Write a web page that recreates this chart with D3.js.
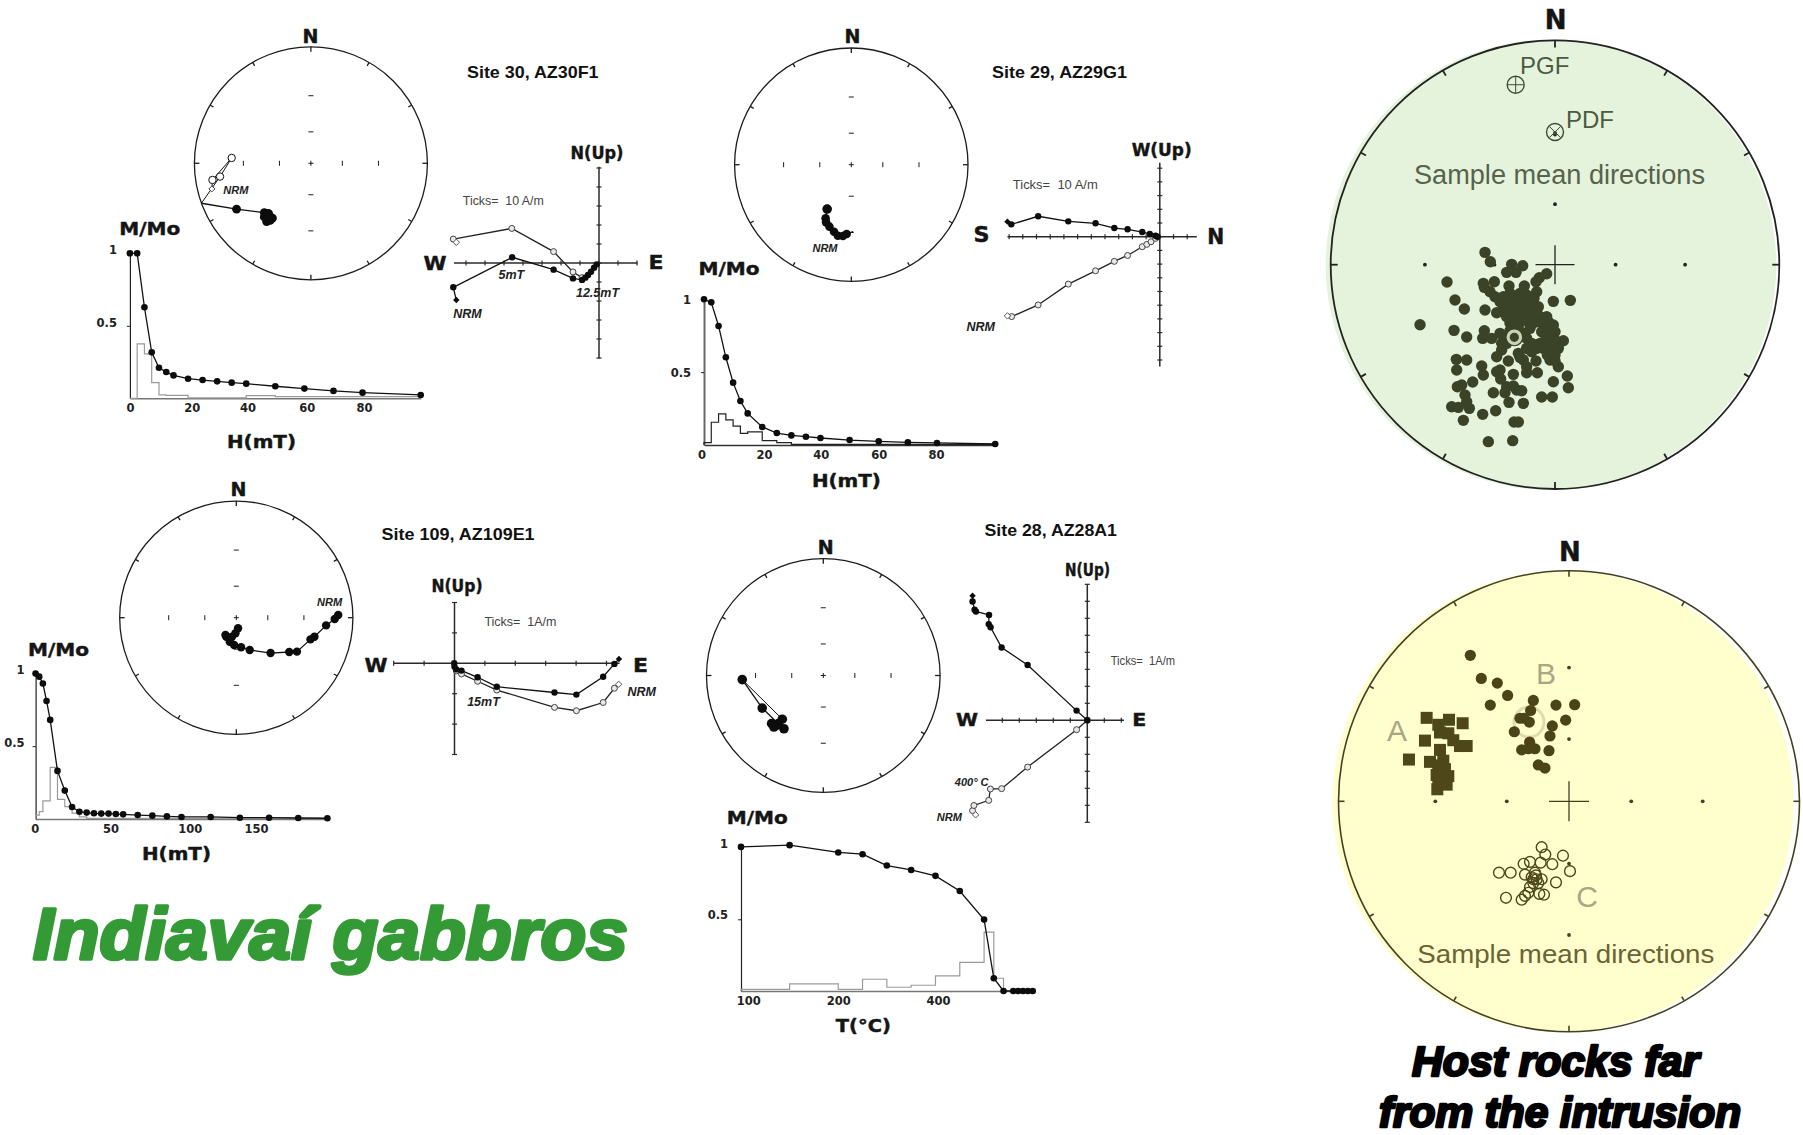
<!DOCTYPE html>
<html><head><meta charset="utf-8">
<script src="https://cdn.jsdelivr.net/npm/d3@7"></script>
<style>html,body{margin:0;padding:0;background:#fff}svg{display:block}text{white-space:pre}</style>
</head><body><svg id="c" width="1803" height="1135"></svg>
<script>
// ---------- stereonet directions, east / north in fractions of the net radius
const net30Filled=[[-.94,-.343],[-.638,-.394],[-.40,-.423],[-.365,-.43],[-.38,-.5],[-.33,-.47],[-.36,-.44],[-.40,-.46],[-.35,-.49],[-.37,-.46]];
const net30Open=[[-.85,-.22],[-.845,-.143],[-.68,.046],[-.78,-.114],[-.94,-.343]];
const net29Filled=[[-.207,-.38],[-.22,-.46],[-.216,-.494],[-.187,-.531],[-.148,-.574],[-.115,-.609],[-.072,-.611],[-.04,-.594]];
const net29Tail=[[-.04,-.594],[.016,-.574]];
const net109Filled=[[.874,.023],[.844,-.011],[.77,-.066],[.67,-.163],[.636,-.186],[.52,-.291],[.454,-.294],[.294,-.303],[.115,-.277],[.041,-.254],[-.019,-.234],[-.056,-.206],[-.086,-.163],[-.093,-.149],[-.037,-.163],[-.007,-.134],[.015,-.091]];
const net28Filled=[[-.694,-.035],[-.523,-.279],[-.386,-.412],[-.351,-.374],[-.443,-.412],[-.423,-.441],[-.337,-.456],[-.4,-.426]];
const net28Open=[[-.694,-.035],[-.351,-.374]];
const netInnerTicks=[-.58,-.27,.27,.58];
// ---------- host rock directions, read on a grid across each net
const hostGreen=[[525,757],[541,785],[605,793],[638,797],[590,817],[618,817],[710,821],[688,833],[678,845],[411,846],[520,850],[553,845],[523,862],[597,858],[643,858],[680,875],[540,875],[555,890],[600,880],[435,900],[730,904],[781,901],[463,927],[525,930],[570,905],[590,910],[575,935],[560,938],[620,900],[640,905],[660,905],[685,920],[630,925],[650,930],[670,935],[600,935],[610,950],[635,945],[660,950],[690,950],[710,950],[600,970],[630,965],[680,965],[700,970],[730,975],[330,974],[432,991],[523,992],[470,1011],[518,1015],[545,1015],[570,1000],[590,1010],[735,995],[695,995],[660,985],[615,985],[640,1000],[720,1015],[760,1022],[735,1020],[665,1030],[690,1030],[650,1045],[665,1055],[700,1045],[720,1050],[745,1045],[575,1050],[560,1070],[595,1083],[625,1060],[640,1080],[678,1083],[720,1080],[745,1100],[650,1100],[650,1118],[682,1118],[515,1098],[570,1110],[560,1115],[520,1125],[572,1137],[610,1123],[439,1078],[470,1080],[440,1110],[772,1128],[730,1145],[775,1163],[488,1146],[455,1155],[442,1160],[465,1185],[590,1160],[610,1158],[620,1170],[635,1172],[585,1178],[550,1178],[695,1191],[727,1191],[470,1205],[597,1207],[640,1210],[425,1220],[445,1222],[478,1225],[557,1232],[518,1243],[460,1261],[612,1266],[625,1266],[535,1325],[608,1322],
[580,890],[610,892],[650,885],[672,895],[630,880],[600,920],[615,915],[640,920],[660,920],[590,950],[620,935],[680,935],[650,962],[670,968],[715,965],[625,978],[600,992],[650,1015],[705,1022],[725,1035],[680,1045],[712,1065],[735,1065],[735,1082],[630,1072],[590,1030],[575,1030],[722,992]];
const hostGreenMean=[[613,1012]];
const hostGreenPGF=[[617,254]];
const hostGreenPDF=[[735,396]];
const hostA=[[320,487],[387,492],[428,501],[355,505],[360,525],[385,527],[315,546],[400,545],[440,560],[420,560],[360,570],[267,595],[330,601],[370,598],[355,610],[375,620],[350,635],[385,638],[370,650],[355,645],[352,672],[380,660]];
const hostB=[[451,325],[484,385],[532,397],[563,429],[511,454],[640,442],[708,454],[764,453],[632,468],[600,488],[612,488],[628,498],[737,493],[583,523],[697,508],[690,534],[629,550],[605,570],[625,567],[645,567],[687,572],[655,609],[675,617]];
const hostC=[[665,822],[676,841],[729,844],[750,884],[697,866],[662,862],[630,860],[611,865],[537,888],[572,888],[615,893],[645,888],[665,905],[708,913],[640,905],[650,905],[640,915],[655,915],[630,925],[625,940],[615,948],[605,958],[558,953],[658,943],[672,945],[648,895],[635,900]];
const hostBMean=[[627,498]];
// ---------- demagnetisation curves
const afField=[0,2.5,5,7.5,10,12.5,15,20,25,30,35,40,50,60,70,80,100];
const m30=[1,1,.628,.317,.211,.181,.158,.135,.126,.117,.108,.101,.083,.067,.051,.039,.023];
const m29=[1,.979,.817,.602,.428,.302,.217,.124,.082,.066,.057,.048,.034,.025,.018,.014,.007];
const hist30Edges=[0,2.5,5,7.5,10,12.5,15,20,40,50,100];
const hist30=[.0,.375,.306,.108,.023,.02,.02,.003,.018,.012];
const hist29Edges=[0,2.5,5,7.5,10,12.5,15,20,25,30,100];
const hist29=[.016,.156,.213,.172,.13,.08,.09,.03,.016,.004];
const field109=[0,2.5,5,7.5,10,15,20,25,30,35,40,45,50,55,60,70,80,90,100,120,140,160,180,200];
const m109=[.998,.977,.93,.81,.68,.33,.195,.082,.05,.044,.039,.037,.037,.034,.032,.027,.023,.018,.014,.014,.009,.009,.007,.005];
const hist109Edges=[0,2.5,5,10,15,20,25,30,35,200];
const hist109=[.027,.05,.124,.355,.135,.085,.04,.015,.004];
const temp28=[0,100,200,250,300,350,400,450,500,520,540,560,570,580,590,600];
const m28=[1.005,1.017,.966,.954,.875,.844,.803,.697,.498,.089,0,0,0,0,0,0];
const hist28Edges=[0,100,200,250,300,350,400,450,500,520,540];
const hist28=[.012,.05,.012,.082,.026,.04,.106,.2,.41,.089];
// tick labels and where they sit along each axis
const xLabels30=["0","20","40","60","80"], xLabelsAt30=[0,21.3,40.4,60.8,80.5];
const xLabels29=["0","20","40","60","80"], xLabelsAt29=[-.9,20.6,40.1,60,79.7];
const xLabels109=["0","50","100","150"], xLabelsAt109=[-.5,51.4,105.6,151];
const xLabels28=["100","200","400"], xLabelsAt28=[15,200,405];
const yLabels=["1","0.5"], yLabelsAt=[1,.5];
// ---------- vector end-point diagrams (A/m: east or north, up)
const z30Filled=[[-75.1,-19.5],[-76.7,-12.8],[-45.7,3],[-23.9,-3.5],[-13.7,-8.1],[-8.9,-8.9],[-7.2,-7.7],[-5.8,-6.3],[-4.2,-4.6],[-2.6,-2.5],[-1.2,-.7]];
const z30Open=[[-75.1,10.9],[-76.7,12.6],[-45.9,18.2],[-23.9,6],[-13.7,-4.7],[-8.9,-7.7]];
const z29Filled=[[-111.2,11],[-108.4,9],[-88.8,14.9],[-66.8,11.2],[-46.9,9.8],[-33.2,6.3],[-23.5,5.4],[-12.8,3.4],[-7.3,2],[-3.1,.7],[-1.7,0]];
const z29Open=[[-111.2,-57.8],[-108.1,-58.3],[-88.8,-49.8],[-66.8,-34.6],[-46.9,-24.9],[-33.2,-18],[-23.5,-13.7],[-12.8,-7.3],[-9.5,-5.6],[-6.4,-3.7],[-3.1,-1.2]];
const z109Filled=[[5.41,.14],[5.26,-.02],[4.89,-.44],[4.01,-1.03],[3.29,-.96],[1.39,-.77],[.76,-.46],[.23,-.24],[.06,-.2],[0,-.11],[-.01,0]];
const z109Open=[[5.4,-.69],[5.26,-.82],[4.89,-1.29],[4.01,-1.56],[3.29,-1.45],[1.39,-.88],[.76,-.59],[.23,-.35],[.06,-.25]];
const z28Filled=[[-6.75,7.33],[-6.75,6.99],[-6.63,6.5],[-6.55,6.4],[-5.78,6.2],[-5.8,5.66],[-5.69,5.47],[-5.04,4.28],[-3.51,3.25],[-.63,.57],[0,0]];
const z28Open=[[-6.57,-5.56],[-6.75,-5.31],[-6.67,-5.01],[-5.8,-4.71],[-5.7,-4.04],[-5.04,-4.02],[-3.51,-2.75],[-.63,-.55],[0,0]];

const svg=d3.select("#c");
const HEAVY='"DejaVu Sans",sans-serif', ARIAL='"Liberation Sans",Arial,sans-serif';
function T(s,x,y,o={}){
  const t=svg.append("text").text(s).attr("x",x).attr("y",y)
    .attr("font-family",o.family||ARIAL).attr("font-size",o.size||14)
    .attr("font-weight",o.weight||"normal").attr("font-style",o.style||"normal")
    .attr("fill",o.fill||"#111").attr("text-anchor",o.anchor||"start");
  if(o.mid) t.attr("dominant-baseline","central");
  if(o.width) t.attr("textLength",o.width).attr("lengthAdjust","spacingAndGlyphs");
  if(o.stroke) t.attr("stroke",o.stroke).attr("stroke-width",o.sw||1).attr("stroke-linejoin","round");
  return t;
}
const H=(s,x,y,size,w)=>T(s,x,y,{family:HEAVY,weight:"bold",size,anchor:"middle",mid:true,width:w,fill:"#151515",stroke:"#151515",sw:.45});
const IT=(s,x,y,size)=>T(s,x,y,{weight:"bold",style:"italic",size,anchor:"middle",mid:true,fill:"#222"});

function net(cx,cy,r,dom,o={}){
  const xs=d3.scaleLinear().domain(dom.x).range([cx-r,cx+r]);
  const ys=d3.scaleLinear().domain(dom.y).range([cy+r,cy-r]);
  const g=svg.append("g"), col=o.col||"#1c1c1c";
  const ang=d3.range(0,360,30);
  if(o.fill) g.append("circle").attr("cx",cx+(o.fdx||0)).attr("cy",cy+(o.fdy||0)).attr("r",r+(o.fdr||0)).attr("fill",o.fill);
  g.append("circle").attr("cx",cx).attr("cy",cy).attr("r",r).attr("fill","none").attr("stroke",col).attr("stroke-width",o.sw||1.3);
  const tl=o.tick||4;
  g.selectAll("line.t").data(ang).join("line").attr("class","t")
    .attr("x1",d=>cx+r*Math.sin(d*Math.PI/180)).attr("y1",d=>cy-r*Math.cos(d*Math.PI/180))
    .attr("x2",d=>cx+(r-(d%90?tl:tl+1))*Math.sin(d*Math.PI/180)).attr("y2",d=>cy-(r-(d%90?tl:tl+1))*Math.cos(d*Math.PI/180))
    .attr("stroke",col).attr("stroke-width",o.sw||1.3);
  return {xs,ys,g,cx,cy,r,col};
}
function innerTicks(n,zero){
  const q=d3.scaleLinear().domain([-1,1]).range([-n.r,n.r]);
  netInnerTicks.forEach(v=>{
    n.g.append("line").attr("x1",n.cx+q(v)).attr("x2",n.cx+q(v)).attr("y1",n.cy-2.5).attr("y2",n.cy+2.5).attr("stroke",n.col);
    n.g.append("line").attr("y1",n.cy+q(v)).attr("y2",n.cy+q(v)).attr("x1",n.cx-2.5).attr("x2",n.cx+2.5).attr("stroke",n.col);
  });
  n.g.append("path").attr("d",`M${n.cx-2.5},${n.cy}h5M${n.cx},${n.cy-2.5}v5`).attr("stroke",n.col);
}
function innerDots(n,size){
  const q=d3.scaleLinear().domain([-1,1]).range([-n.r,n.r]);
  netInnerTicks.forEach(v=>{
    n.g.append("circle").attr("cx",n.cx+q(v)).attr("cy",n.cy).attr("r",1.9).attr("fill",n.col);
    n.g.append("circle").attr("cx",n.cx).attr("cy",n.cy+q(v)).attr("r",1.9).attr("fill",n.col);
  });
  n.g.append("path").attr("d",`M${n.cx-size},${n.cy}h${2*size}M${n.cx},${n.cy-size}v${2*size}`).attr("stroke",n.col).attr("stroke-width",1.3);
}
function path(sx,sy,pts,o={}){
  svg.append("path").attr("d",d3.line().x(d=>sx(d[0])).y(d=>sy(d[1]))(pts)).attr("fill","none")
    .attr("stroke",o.stroke||"#111").attr("stroke-width",o.sw||1.2);
}
function dots(sx,sy,pts,r,o={}){
  svg.append("g").selectAll("circle").data(pts).join("circle").attr("cx",d=>sx(d[0])).attr("cy",d=>sy(d[1])).attr("r",r)
    .attr("fill",o.fill||"#0c0c0c").attr("stroke",o.stroke||"none").attr("stroke-width",o.sw||1);
}
function diamonds(sx,sy,pts,r,o={}){
  svg.append("g").selectAll("path").data(pts).join("path")
    .attr("d",d=>{const x=sx(d[0]),y=sy(d[1]);return `M${x-r},${y}L${x},${y-r}L${x+r},${y}L${x},${y+r}Z`;})
    .attr("fill",o.fill||"#0c0c0c").attr("stroke",o.stroke||"none");
}
function decay(b,xv,mv,edges,hv,labels,at,o={}){
  const x=d3.scaleLinear().domain(b.xd).range([b.x0,b.x1]);
  const y=d3.scaleLinear().domain([0,1]).range([b.y0,b.y1]);
  const ax=svg.append("g").attr("transform",`translate(0,${b.y0})`).call(d3.axisBottom(x).tickValues(at).tickFormat((d,i)=>labels[i]).tickSize(0).tickPadding(o.pad||6));
  ax.selectAll("text").attr("font-family",HEAVY).attr("font-weight","bold").attr("font-size",11.5).attr("fill","#222");
  ax.select(".domain").attr("stroke",o.baseCol||"#777").attr("stroke-width",1.6);
  const ay=svg.append("g").attr("transform",`translate(${b.x0},0)`).call(d3.axisLeft(y).tickValues(yLabelsAt).tickFormat((d,i)=>yLabels[i]).tickSize(3).tickPadding(o.ypad||10).tickSizeOuter(0));
  ay.selectAll("text").attr("font-family",HEAVY).attr("font-weight","bold").attr("font-size",11.5).attr("fill","#222").attr("dy",`${.32+(o.ydy||0)/11.5}em`);
  ay.select(".domain").attr("stroke",o.axisCol||"#222").attr("stroke-width",o.axisW||1.2);
  ay.selectAll("line").attr("stroke","#222");
  let d=`M${x(edges[0])},${y(0)}`;
  hv.forEach((v,i)=>{d+=`V${y(v)}H${x(edges[i+1])}`;});
  d+=`V${y(0)}`;
  svg.append("path").attr("d",d).attr("fill","none").attr("stroke",o.histCol||"#9a9a9a").attr("stroke-width",1.2);
  const pts=xv.map((v,i)=>[v,mv[i]]);
  path(x,y,pts,{sw:1.3});
  dots(x,y,pts,3.3);
}
function zij(b,filled,open,o={}){
  const x=d3.scaleLinear().domain([0,1]).range([b.ox,b.ox+b.u]);
  const y=d3.scaleLinear().domain([0,1]).range([b.oy,b.oy-b.uy]);
  const col="#2a2a2a";
  svg.append("line").attr("x1",x(b.xr[0])).attr("x2",x(b.xr[1])).attr("y1",b.oy).attr("y2",b.oy).attr("stroke",col).attr("stroke-width",1.5);
  svg.append("line").attr("y1",y(b.yr[0])).attr("y2",y(b.yr[1])).attr("x1",b.ox).attr("x2",b.ox).attr("stroke",col).attr("stroke-width",1.5);
  d3.range(Math.ceil(b.xr[0]/b.step)*b.step,b.xr[1]+.001,b.step).forEach(v=>{
    svg.append("line").attr("x1",x(v)).attr("x2",x(v)).attr("y1",b.oy-2.5).attr("y2",b.oy+2.5).attr("stroke",col).attr("stroke-width",1.2);});
  d3.range(Math.ceil(b.yr[0]/b.step)*b.step,b.yr[1]+.001,b.step).forEach(v=>{
    svg.append("line").attr("y1",y(v)).attr("y2",y(v)).attr("x1",b.ox-2.5).attr("x2",b.ox+2.5).attr("stroke",col).attr("stroke-width",1.2);});
  path(x,y,open,{sw:1.3,stroke:"#222"});
  path(x,y,filled,{sw:1.3});
  dots(x,y,open.slice(1),b.r||3,{fill:"#e8e8e8",stroke:"#444",sw:1});
  diamonds(x,y,open.slice(0,1),3.2,{fill:"#fff",stroke:"#555"});
  dots(x,y,filled.slice(1),b.r||3.2);
  diamonds(x,y,filled.slice(0,1),3.2);
}
const unit={x:[-1,1],y:[-1,1]};

// ================ Site 30
let n=net(310.9,163.3,116.5,unit); innerTicks(n);
path(n.xs,n.ys,net30Open,{sw:1}); path(n.xs,n.ys,net30Filled,{sw:1.3});
dots(n.xs,n.ys,net30Open.slice(1,4),3.7,{fill:"#fff",stroke:"#111"});
diamonds(n.xs,n.ys,net30Open.slice(0,1),3,{fill:"#fff",stroke:"#444"});
dots(n.xs,n.ys,net30Filled.slice(1),4.4);
H("N",310.5,35.6,19);
IT("NRM",235.9,190,11);
T("Site 30, AZ30F1",467,77.7,{weight:"bold",size:16.5,width:131.5});
H("N(Up)",597,152,18,53);
T("Ticks=  10 A/m",462.8,205,{size:13.5,fill:"#444",width:81});
H("W",434.9,262.7,20,23); H("E",656,261.7,20,15);
decay({xd:[0,100],x0:129.9,x1:420.7,y0:398.3,y1:253.3},afField,m30,hist30Edges,hist30,xLabels30,xLabelsAt30,{axisW:1.2,ydy:-3});
H("M/Mo",149.8,228,18,61); H("H(mT)",261.5,441,18,69);
zij({ox:599,oy:263,u:1.9,uy:1.9,xr:[-76.3,20.3],yr:[-50.2,50.7],step:10},z30Filled,z30Open);
IT("5mT",511.4,275,12.5); IT("12.5mT",597.5,293,12.5); IT("NRM",467.4,314,12.5);

// ================ Site 29
n=net(851.3,164.7,116.7,unit); innerTicks(n);
path(n.xs,n.ys,net29Filled,{sw:1.3}); path(n.xs,n.ys,net29Tail,{sw:1.3});
dots(n.xs,n.ys,net29Filled,4.3); dots(n.xs,n.ys,net29Filled.slice(0,1),4.8);
H("N",852.5,36,19);
IT("NRM",825,247.7,11);
T("Site 29, AZ29G1",992,77.7,{weight:"bold",size:16.5,width:135});
H("W(Up)",1161.7,149.5,18,60);
T("Ticks=  10 A/m",1012.8,189.3,{size:13.5,fill:"#444",width:85});
H("S",981.5,235,21,16); H("N",1215.7,237.3,21,17);
decay({xd:[0,100],x0:704,x1:995.2,y0:445,y1:299.3},afField,m29,hist29Edges,hist29,xLabels29,xLabelsAt29,{axisCol:"#666",axisW:2,histCol:"#222",baseCol:"#333",ydy:1});
H("M/Mo",729,268,18,61); H("H(mT)",846.4,480.5,18,69);
zij({ox:1159.8,oy:236.7,u:1.37,uy:1.37,xr:[-111.2,27],yr:[-94.8,54],step:10},z29Filled,z29Open,{});
IT("NRM",980.7,326.7,12.5);

// ================ Site 109
n=net(236.3,617.7,116.6,unit); innerTicks(n);
path(n.xs,n.ys,net109Filled,{sw:1.3}); dots(n.xs,n.ys,net109Filled,4.2);
H("N",238.5,489.3,19);
IT("NRM",329.6,602.3,11);
T("Site 109, AZ109E1",381.6,540,{weight:"bold",size:16.5,width:153});
H("N(Up)",457,585,18,51);
T("Ticks=  1A/m",484.4,625.7,{size:13.5,fill:"#444",width:72});
H("W",376,665,20,23); H("E",640.5,665,20,15);
decay({xd:[0,200],x0:35.6,x1:327.4,y0:819,y1:673.3},field109,m109,hist109Edges,hist109,xLabels109,xLabelsAt109,{ypad:8,ydy:-3});
H("M/Mo",58.5,649.3,18,61); H("H(mT)",176.5,853.3,18,69);
zij({ox:454.5,oy:663.3,u:30.4,uy:30.4,xr:[-2,5.43],yr:[-3.01,2],step:1},z109Filled,z109Open);
IT("15mT",483.5,701.7,12.5); IT("NRM",641.8,691.7,12.5);

// ================ Site 28
n=net(823.3,675.5,116.8,unit); innerTicks(n);
path(n.xs,n.ys,net28Open,{sw:1}); path(n.xs,n.ys,net28Filled.slice(0,3),{sw:1.3});
dots(n.xs,n.ys,net28Filled,4.8);
H("N",825.7,547,19);
T("Site 28, AZ28A1",984.5,535.9,{weight:"bold",size:16.5,width:132.5});
H("N(Up)",1087.5,570,17,45);
T("Ticks=  1A/m",1110.7,665,{size:13,fill:"#444",width:64.5});
H("W",967,719.7,17,22); H("E",1139.3,719.7,17,14);
decay({xd:[0,600],x0:741,x1:1032.7,y0:991,y1:847.6},temp28,m28,hist28Edges,hist28,xLabels28,xLabelsAt28,{ydy:-4});
H("M/Mo",757.3,817,18,61); H("T(°C)",863.3,1025.5,18,55);
zij({ox:1087.3,oy:720.3,u:17,uy:17,xr:[-5.96,2.16],yr:[-6,8],step:1},z28Filled,z28Open);
IT("400° C",971.7,782.4,11); IT("NRM",949.3,817.2,11);

// ================ Host rocks (green)
const hG={x:[62,1408],y:[1467,121]};
n=net(1555,264.7,224.3,hG,{fill:"#e6f3dc",fdx:-4,fdr:1,col:"#222",sw:1.8,tick:6});
innerDots(n,19.5);
dots(n.xs,n.ys,hostGreen,5.7,{fill:"#3a4228"});
dots(n.xs,n.ys,hostGreenMean,9,{fill:"#3a4228"});
dots(n.xs,n.ys,hostGreenMean,6.2,{fill:"none",stroke:"#c9d2b4",sw:3.2});
dots(n.xs,n.ys,hostGreenMean,1.5,{fill:"#3a4228"});
dots(n.xs,n.ys,hostGreenPGF,8.5,{fill:"none",stroke:"#3f4a38",sw:1.4});
dots(n.xs,n.ys,hostGreenPDF,8.5,{fill:"none",stroke:"#3f4a38",sw:1.4});
{const [x,y]=[n.xs(hostGreenPGF[0][0]),n.ys(hostGreenPGF[0][1])];
 svg.append("path").attr("d",`M${x-8},${y}h16M${x},${y-8}v16`).attr("stroke","#3f4a38").attr("stroke-width",1);
 const [a,b]=[n.xs(hostGreenPDF[0][0]),n.ys(hostGreenPDF[0][1])];
 svg.append("path").attr("d",`M${a-5.5},${b-5.5}l11,11M${a+5.5},${b-5.5}l-11,11`).attr("stroke","#3f4a38").attr("stroke-width",1);
 svg.append("circle").attr("cx",a).attr("cy",b+1).attr("r",2).attr("fill","#3f4a38");}
H("N",1555.7,20,26);
T("PGF",1520,74,{size:24,fill:"#4d5a42"});
T("PDF",1566,128,{size:24,fill:"#4d5a42"});
T("Sample mean directions",1414,183.5,{size:27,fill:"#56634c",width:291});

// ================ Host rocks (yellow)
const hY={x:[52,1440],y:[1298,108]};
const xsY=d3.scaleLinear().domain(hY.x).range([1337.3,1800]);
const ysY=d3.scaleLinear().domain(hY.y).range([1031,571.5]);
n=net(1569,801.3,230.5,{x:[-1,1],y:[-1,1]},{fill:"#ffffcd",fdx:-6,col:"#444122",sw:1.6,tick:5});
innerDots(n,20);
dots(xsY,ysY,hostBMean,15,{fill:"none",stroke:"#dcdcae",sw:3});
T("A",1397,741,{size:30,fill:"#a9a685"}).attr("text-anchor","middle");
T("B",1546,684,{size:30,fill:"#a9a685"}).attr("text-anchor","middle");
T("C",1587,907,{size:30,fill:"#a9a685"}).attr("text-anchor","middle");
svg.append("g").selectAll("rect").data(hostA).join("rect")
  .attr("x",d=>xsY(d[0])-6).attr("y",d=>ysY(d[1])-6).attr("width",12).attr("height",12).attr("fill","#4e4819");
dots(xsY,ysY,hostB,5.6,{fill:"#4b4419"});
dots(xsY,ysY,hostC,5.4,{fill:"none",stroke:"#4e4819",sw:1.4});
H("N",1570,552,26);
T("Sample mean directions",1417.3,962.5,{size:26,fill:"#6b6335",width:297});

// ================ Captions
T("Indiavaí gabbros",33,958.5,{size:72,weight:"bold",style:"italic",fill:"#339a35",width:595,stroke:"#339a35",sw:3.5});
T("Host rocks far",1412,1076,{size:42,weight:"bold",style:"italic",fill:"#000",width:287,stroke:"#000",sw:2.6});
T("from the intrusion",1379,1126.5,{size:42,weight:"bold",style:"italic",fill:"#000",width:362,stroke:"#000",sw:2.6});
</script></body></html>
